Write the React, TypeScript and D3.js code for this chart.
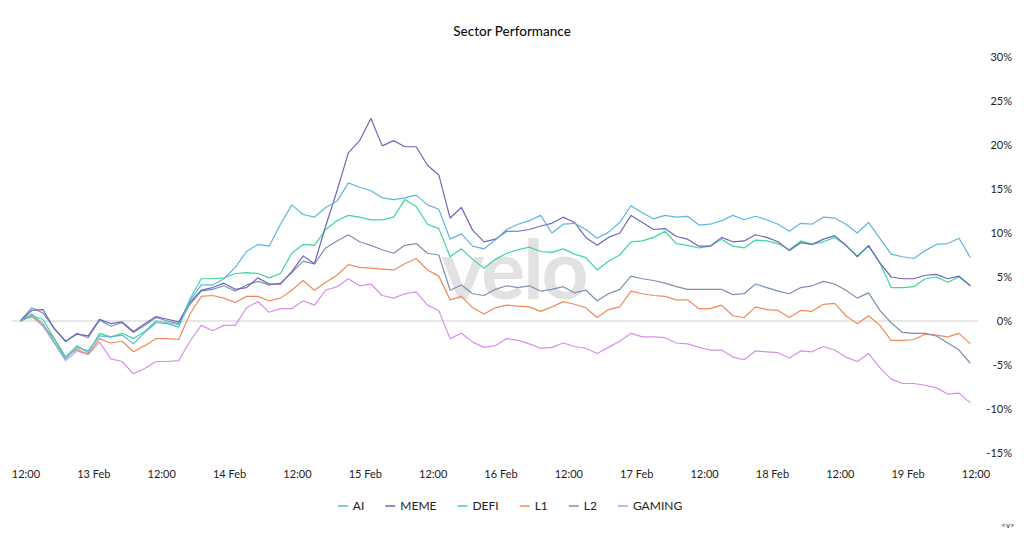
import React from "react";
import * as d3 from "d3";

// 2-hourly samples, 12 Feb 11:00 -> 19 Feb 11:00 (UTC)
const START = Date.UTC(2025, 1, 12, 11);
const STEP_H = 2;

const seriesNames = ["AI", "MEME", "DEFI", "L1", "L2", "GAMING"];
const seriesColors = ["#5db6de", "#6a68bc", "#3ed69c", "#f08a5a", "#7d90b2", "#d68fe8"];

const ai = [
  0, 0.8, -0.3, -2.4, -4.3, -3.0, -3.4, -1.7, -1.8, -1.6, -2.6, -1.3, -0.2, -0.3, -0.7, 2.3, 4.1, 4.1, 4.8, 6.1,
  7.9, 8.7, 8.5, 11.0, 13.2, 12.1, 11.8, 12.9, 13.6, 15.7, 15.2, 14.8, 14.0, 13.8, 14.0, 14.3, 13.2, 12.7, 9.3, 9.9,
  8.5, 8.2, 9.2, 10.4, 11.0, 11.4, 12.0, 10.0, 11.0, 11.1, 10.4, 9.4, 10.1, 11.2, 13.1, 12.3, 11.6, 12.0, 11.8, 11.9,
  10.9, 11.0, 11.4, 12.0, 11.5, 11.9, 11.5, 11.0, 10.2, 11.1, 11.0, 11.8, 11.7, 11.0, 10.0, 11.2, 9.4, 7.6, 7.3, 7.1,
  8.0, 8.7, 8.8, 9.4, 7.2,
];
const meme = [
  0, 1.2, 1.3, -0.9, -2.3, -1.5, -1.7, 0.2, -0.3, -0.1, -1.2, -0.3, 0.5, 0.2, -0.1, 2.1, 3.5, 3.8, 4.3, 3.6,
  3.8, 4.9, 4.2, 4.2, 5.6, 7.4, 6.5, 10.8, 14.8, 19.1, 20.5, 23.0, 19.9, 20.5, 19.8, 19.8, 17.7, 16.6, 11.7, 12.9,
  10.3, 9.0, 9.3, 10.2, 10.2, 10.4, 10.8, 11.1, 11.8, 11.2, 9.5, 8.6, 9.5, 10.0, 12.0, 11.2, 10.4, 10.5, 9.6, 9.3,
  8.5, 8.5, 9.5, 9.0, 9.1, 9.8, 9.5, 9.0, 8.0, 8.9, 8.7, 9.3, 9.7, 8.6, 7.3, 8.6, 6.6, 5.0, 4.8, 4.8,
  5.2, 5.3, 4.8, 5.1, 4.0,
];
const defi = [
  0, 0.6, 0.2, -2.0, -4.1, -2.8, -3.6, -1.4, -1.8, -1.4, -2.0, -1.2, 0.0, -0.2, -0.4, 2.5, 4.8, 4.8, 4.9, 5.4,
  5.5, 5.4, 4.9, 5.4, 7.7, 8.7, 8.6, 10.4, 11.4, 12.0, 11.8, 11.5, 11.5, 11.8, 13.8, 13.0, 11.0, 10.5, 7.3, 8.2,
  7.0, 6.0, 7.0, 7.7, 8.1, 8.4, 7.9, 7.8, 8.2, 7.6, 7.2, 5.8, 6.8, 7.5, 9.0, 9.1, 9.5, 10.2, 8.8, 8.6,
  8.3, 8.5, 9.3, 8.5, 8.3, 9.2, 9.1, 8.8, 8.1, 9.1, 8.7, 9.0, 9.5, 8.6, 7.4, 8.5, 6.6, 3.8, 3.8, 3.9,
  4.8, 5.0, 4.4, 5.0, 4.0,
];
const l1 = [
  0, 0.5, -0.5, -2.0, -4.1, -3.2, -3.8, -2.0, -2.5, -2.3, -3.5, -2.8, -2.0, -2.0, -2.1, 0.8, 2.8, 2.9, 2.6, 2.1,
  2.8, 2.8, 2.3, 2.6, 3.5, 4.6, 3.5, 4.4, 5.2, 6.4, 6.1, 6.0, 5.9, 5.8, 6.5, 7.1, 5.8, 5.1, 2.4, 2.8,
  1.5, 0.8, 1.5, 1.8, 1.7, 1.6, 1.1, 1.6, 2.2, 1.9, 1.5, 0.4, 1.3, 1.6, 3.4, 3.1, 2.9, 2.8, 2.4, 2.4,
  1.4, 1.4, 1.8, 0.6, 0.4, 1.6, 1.3, 1.2, 0.4, 1.2, 1.1, 1.9, 2.0, 0.6, -0.3, 0.6, -0.5, -2.2, -2.2, -2.1,
  -1.5, -1.6, -1.8, -1.4, -2.6,
];
const l2 = [
  0, 1.5, 0.9, -0.8, -2.3, -1.4, -1.9, 0.1, -0.6, -0.2, -1.3, -0.5, 0.4, 0.0, -0.3, 1.9, 3.4, 3.6, 4.0, 3.4,
  4.1, 4.5, 4.1, 4.3, 5.5, 6.8, 6.5, 8.3, 9.1, 9.8, 9.0, 8.6, 8.1, 7.7, 8.6, 8.8, 7.7, 7.5, 3.5, 4.1,
  3.1, 2.9, 3.6, 4.0, 3.8, 4.0, 3.4, 3.6, 3.9, 3.2, 3.5, 2.3, 3.1, 3.6, 5.1, 4.8, 4.6, 4.3, 3.9, 3.6,
  3.6, 3.6, 3.6, 3.0, 3.1, 4.2, 3.8, 3.4, 3.1, 3.8, 4.0, 4.5, 4.2, 3.5, 2.6, 3.2, 1.2, -0.2, -1.3, -1.4,
  -1.4, -1.7, -2.5, -3.3, -4.8,
];
const gaming = [
  0, 0.6, -0.6, -2.5, -4.5, -3.4, -3.8, -2.4, -4.3, -4.6, -6.0, -5.4, -4.6, -4.6, -4.5, -2.3, -0.5, -1.1, -0.5, -0.5,
  1.5, 2.2, 1.0, 1.4, 1.4, 2.3, 1.8, 3.5, 3.9, 4.8, 4.0, 4.2, 2.9, 2.6, 3.1, 3.3, 1.8, 1.2, -2.0, -1.4,
  -2.4, -3.0, -2.8, -2.0, -2.2, -2.6, -3.1, -3.0, -2.5, -2.9, -3.1, -3.7, -3.0, -2.3, -1.4, -1.8, -1.8, -1.9, -2.5, -2.6,
  -3.0, -3.3, -3.3, -4.1, -4.4, -3.4, -3.5, -3.6, -4.2, -3.4, -3.5, -2.9, -3.3, -4.1, -4.6, -3.7, -5.3, -6.6, -7.1, -7.1,
  -7.3, -7.6, -8.3, -8.2, -9.3,
];
const seriesValues = [ai, meme, defi, l1, l2, gaming];

const yTicks = [30, 25, 20, 15, 10, 5, 0, -5, -10, -15];

const W = 1024;
const H = 536;
const FONT = "Lato, 'Noto Sans', sans-serif";

export default function App() {
  const ref = React.useRef<SVGSVGElement>(null);

  React.useEffect(() => {
    const svg = d3.select(ref.current);
    svg.selectAll("*").remove();

    const t0 = new Date(Date.UTC(2025, 1, 12, 12));
    const t1 = new Date(Date.UTC(2025, 1, 19, 12));
    const x = d3.scaleUtc().domain([t0, t1]).range([26, 976]);
    const y = d3.scaleLinear().domain([-15, 30]).range([453, 57]);

    const dates = ai.map((_, i) => new Date(START + i * STEP_H * 3600e3));

    // title
    svg
      .append("text")
      .attr("x", 512)
      .attr("y", 36)
      .attr("text-anchor", "middle")
      .attr("font-size", 13.5)
      .attr("font-weight", 500)
      .attr("fill", "#111")
      .text("Sector Performance");

    // watermark
    svg
      .append("text")
      .attr("x", 514)
      .attr("y", 299)
      .attr("text-anchor", "middle")
      .attr("font-size", 82)
      .attr("font-weight", 700)
      .attr("letter-spacing", -2)
      .attr("fill", "#e2e2e2")
      .text("velo");

    // zero line
    svg
      .append("line")
      .attr("x1", 12)
      .attr("x2", 978)
      .attr("y1", y(0))
      .attr("y2", y(0))
      .attr("stroke", "#cfcfcf")
      .attr("stroke-width", 1);

    // y labels (right)
    svg
      .append("g")
      .selectAll("text")
      .data(yTicks)
      .join("text")
      .attr("x", 1012)
      .attr("y", (d) => y(d) + 4)
      .attr("text-anchor", "end")
      .attr("font-size", 11)
      .attr("fill", "#222")
      .text((d) => `${d}%`);

    // x labels
    const xTicks = x.ticks(d3.utcHour.every(12)!);
    const fmt = (d: Date) => (d.getUTCHours() === 0 ? d3.utcFormat("%-d %b")(d) : d3.utcFormat("%H:%M")(d));
    svg
      .append("g")
      .selectAll("text")
      .data(xTicks)
      .join("text")
      .attr("x", (d) => x(d))
      .attr("y", 478)
      .attr("text-anchor", "middle")
      .attr("font-size", 11)
      .attr("fill", "#222")
      .text(fmt);

    // lines
    const line = d3
      .line<number>()
      .x((_, i) => x(dates[i]))
      .y((d) => y(d));
    const order = [5, 3, 4, 2, 1, 0];
    svg
      .append("g")
      .selectAll("path")
      .data(order)
      .join("path")
      .attr("d", (k) => line(seriesValues[k]))
      .attr("fill", "none")
      .attr("stroke", (k) => seriesColors[k])
      .attr("stroke-width", 1.2)
      .attr("stroke-linejoin", "round");

    // legend
    const lg = svg.append("g");
    const items: { g: any; w: number }[] = [];
    seriesNames.forEach((name, i) => {
      const g = lg.append("g");
      g.append("line")
        .attr("x1", 0)
        .attr("x2", 10)
        .attr("y1", 0)
        .attr("y2", 0)
        .attr("stroke", seriesColors[i])
        .attr("stroke-width", 1.5);
      const t = g
        .append("text")
        .attr("x", 15)
        .attr("y", 4)
        .attr("font-size", 12)
        .attr("fill", "#222")
        .text(name);
      const w = 15 + (t.node() as SVGTextElement).getComputedTextLength();
      items.push({ g, w });
    });
    const gap = 21;
    const total = items.reduce((s, it) => s + it.w, 0) + gap * (items.length - 1);
    let cx = 510 - total / 2;
    items.forEach((it) => {
      it.g.attr("transform", `translate(${cx},506)`);
      cx += it.w + gap;
    });

    svg
      .append("text")
      .attr("x", 1008)
      .attr("y", 528)
      .attr("text-anchor", "middle")
      .attr("font-size", 8)
      .attr("fill", "#222")
      .text("<v>");
  }, []);

  return (
    <svg
      ref={ref}
      width={W}
      height={H}
      style={{ position: "absolute", left: 0, top: 0, background: "#fff", fontFamily: FONT }}
    />
  );
}
